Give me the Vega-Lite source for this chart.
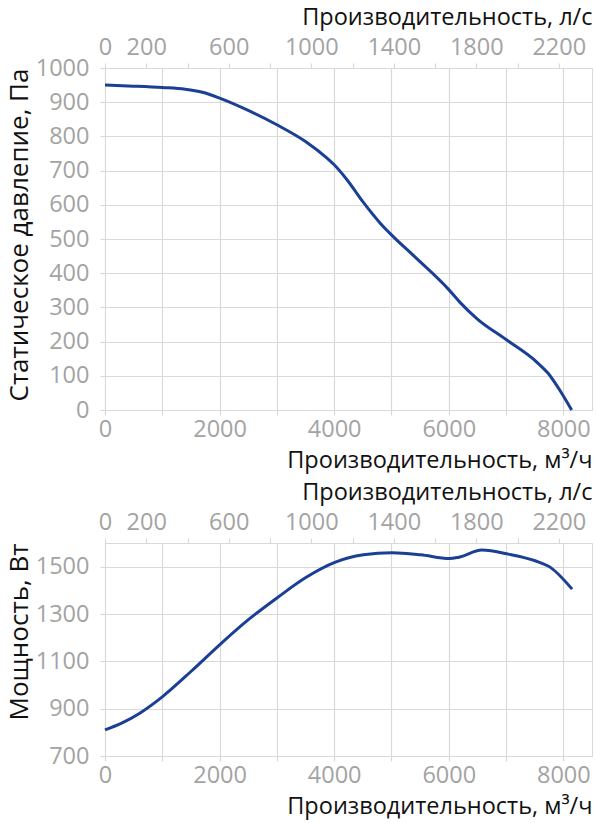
{
  "$schema": "https://vega.github.io/schema/vega-lite/v6.json",
  "padding": {"left": 5, "right": 5, "top": 4, "bottom": 2},
  "spacing": 6,
  "config": {
    "font": "Open Sans",
    "view": {"stroke": "#d9d9d9", "strokeWidth": 1},
    "axis": {
      "labelFont": "Open Sans",
      "labelFontSize": 23.5,
      "labelColor": "#a3a3a3",
      "labelFlush": false,
      "labelOverlap": false,
      "titleFont": "Open Sans",
      "titleFontSize": 23.5,
      "titleFontWeight": "normal",
      "titleColor": "#111111",
      "gridColor": "#d9d9d9",
      "gridWidth": 1.2,
      "tickColor": "#d9d9d9",
      "tickWidth": 1.2,
      "tickSize": 5,
      "domain": false
    }
  },
  "datasets": {
    "pressure": [
      {"q": 0, "p": 950}, {"q": 500, "p": 947}, {"q": 1000, "p": 943}, {"q": 1400, "p": 938},
      {"q": 1700, "p": 929}, {"q": 2000, "p": 912}, {"q": 2500, "p": 876}, {"q": 3000, "p": 834},
      {"q": 3500, "p": 785}, {"q": 3870, "p": 737}, {"q": 4000, "p": 717}, {"q": 4220, "p": 674},
      {"q": 4510, "p": 607}, {"q": 4800, "p": 547}, {"q": 5000, "p": 512}, {"q": 5400, "p": 449},
      {"q": 6000, "p": 352}, {"q": 6200, "p": 314}, {"q": 6500, "p": 266}, {"q": 7000, "p": 206},
      {"q": 7550, "p": 138}, {"q": 7730, "p": 108}, {"q": 7960, "p": 52}, {"q": 8145, "p": 0}
    ],
    "power": [
      {"q": 0, "w": 810}, {"q": 300, "w": 840}, {"q": 600, "w": 880}, {"q": 1000, "w": 950},
      {"q": 1500, "w": 1057}, {"q": 2015, "w": 1173}, {"q": 2513, "w": 1278}, {"q": 3013, "w": 1370},
      {"q": 3512, "w": 1455}, {"q": 4010, "w": 1518}, {"q": 4510, "w": 1550}, {"q": 5010, "w": 1559},
      {"q": 5510, "w": 1550}, {"q": 6010, "w": 1534}, {"q": 6177, "w": 1540}, {"q": 6576, "w": 1570},
      {"q": 7042, "w": 1553}, {"q": 7508, "w": 1525}, {"q": 7774, "w": 1497}, {"q": 8153, "w": 1405}
    ]
  },
  "vconcat": [
    {
      "width": 487,
      "height": 342,
      "data": {"name": "pressure"},
      "layer": [
        {
          "mark": {"type": "line", "color": "#1a3f95", "strokeWidth": 3, "interpolate": "monotone"},
          "encoding": {
            "x": {
              "field": "q", "type": "quantitative",
              "scale": {"domain": [0, 8500], "nice": false},
              "axis": {
                "values": [0, 1000, 2000, 3000, 4000, 5000, 6000, 7000, 8000],
                "format": "d",
                "labelOverlap": false,
                "labelExpr": "datum.value % 2000 === 0 ? datum.label : ''",
                "title": "Производительность, м³/ч",
                "titleAnchor": "end",
                "titlePadding": 8,
                "grid": true
              }
            },
            "y": {
              "field": "p", "type": "quantitative",
              "scale": {"domain": [0, 1000], "nice": false},
              "axis": {
                "values": [0, 100, 200, 300, 400, 500, 600, 700, 800, 900, 1000],
                "format": "d",
                "labelOverlap": false,
                "labelPadding": 11,
                "title": "Статическое давлепие, Па",
                "titleFontSize": 26,
                "titleAnchor": "end",
                "titlePadding": 3
              }
            }
          }
        },
        {
          "mark": {"type": "line", "strokeOpacity": 0, "interpolate": "monotone"},
          "encoding": {
            "x": {
              "field": "q", "type": "quantitative",
              "axis": {
                "orient": "top",
                "values": [0, 720, 1440, 2160, 2880, 3600, 4320, 5040, 5760, 6480, 7200, 7920],
                "grid": false,
                "labelOverlap": false,
                "labelPadding": 4,
                "labelExpr": "(datum.value === 0 || (round(datum.value / 3.6) - 200) % 400 === 0) ? format(round(datum.value / 3.6), 'd') : ''",
                "title": "Производительность, л/с",
                "titleAnchor": "end",
                "titlePadding": 6
              }
            },
            "y": {
              "field": "p", "type": "quantitative",
              "axis": {
                "values": [0, 100, 200, 300, 400, 500, 600, 700, 800, 900, 1000],
                "format": "d",
                "labelOverlap": false,
                "labelPadding": 11,
                "title": "Статическое давлепие, Па",
                "titleFontSize": 26,
                "titleAnchor": "end",
                "titlePadding": 3
              }
            }
          }
        }
      ],
      "resolve": {"axis": {"x": "independent"}}
    },
    {
      "width": 487,
      "height": 213,
      "data": {"name": "power"},
      "layer": [
        {
          "mark": {"type": "line", "color": "#1a3f95", "strokeWidth": 3, "interpolate": "monotone"},
          "encoding": {
            "x": {
              "field": "q", "type": "quantitative",
              "scale": {"domain": [0, 8500], "nice": false},
              "axis": {
                "values": [0, 1000, 2000, 3000, 4000, 5000, 6000, 7000, 8000],
                "format": "d",
                "labelOverlap": false,
                "labelExpr": "datum.value % 2000 === 0 ? datum.label : ''",
                "title": "Производительность, м³/ч",
                "titleAnchor": "end",
                "titlePadding": 8,
                "grid": true
              }
            },
            "y": {
              "field": "w", "type": "quantitative",
              "scale": {"domain": [700, 1600], "nice": false},
              "axis": {
                "values": [700, 900, 1100, 1300, 1500],
                "format": "d",
                "labelOverlap": false,
                "labelPadding": 11,
                "title": "Мощность, Вт",
                "titleFontSize": 26,
                "titleAnchor": "end",
                "titlePadding": 3
              }
            }
          }
        },
        {
          "mark": {"type": "line", "strokeOpacity": 0, "interpolate": "monotone"},
          "encoding": {
            "x": {
              "field": "q", "type": "quantitative",
              "axis": {
                "orient": "top",
                "values": [0, 720, 1440, 2160, 2880, 3600, 4320, 5040, 5760, 6480, 7200, 7920],
                "grid": false,
                "labelOverlap": false,
                "labelPadding": 4,
                "labelExpr": "(datum.value === 0 || (round(datum.value / 3.6) - 200) % 400 === 0) ? format(round(datum.value / 3.6), 'd') : ''",
                "title": "Производительность, л/с",
                "titleAnchor": "end",
                "titlePadding": 6
              }
            },
            "y": {
              "field": "w", "type": "quantitative",
              "axis": {
                "values": [700, 900, 1100, 1300, 1500],
                "format": "d",
                "labelOverlap": false,
                "labelPadding": 11,
                "title": "Мощность, Вт",
                "titleFontSize": 26,
                "titleAnchor": "end",
                "titlePadding": 3
              }
            }
          }
        }
      ],
      "resolve": {"axis": {"x": "independent"}}
    }
  ]
}
